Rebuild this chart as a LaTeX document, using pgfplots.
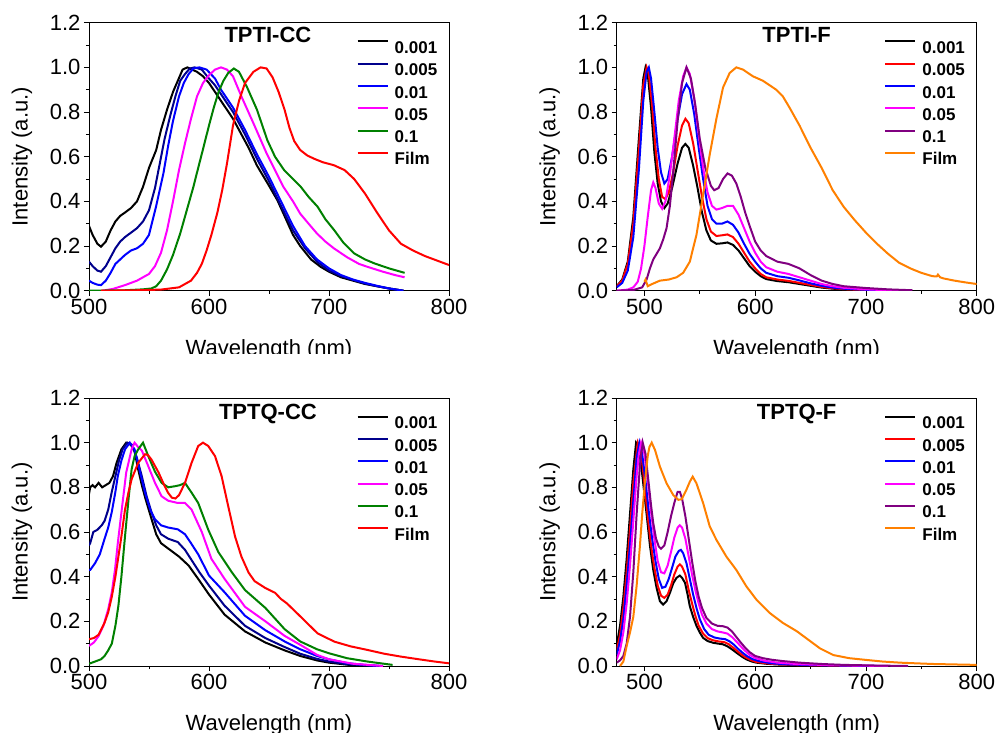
\documentclass[border=0pt]{standalone}
\usepackage{pgfplots}
\pgfplotsset{compat=1.18}
\usepackage{fontspec}
\setmainfont{Liberation Sans}
\definecolor{cnavy}{RGB}{0,0,140}
\definecolor{cblue}{RGB}{0,0,255}
\definecolor{cmag}{RGB}{255,0,255}
\definecolor{cgreen}{RGB}{0,128,0}
\definecolor{cred}{RGB}{255,0,0}
\definecolor{cpurple}{RGB}{128,0,128}
\definecolor{corange}{RGB}{255,128,0}
\pgfplotsset{
 panel/.style={
  scale only axis, width=360pt, height=268pt,
  ymin=0, ymax=1.2, xmax=800,
  ytick={0,0.2,0.4,0.6,0.8,1.0,1.2}, minor y tick num=1,
  xtick={500,600,700,800}, minor x tick num=1,
  tick align=outside, xtick pos=left, ytick pos=left,
  major tick length=5pt, minor tick length=3pt,
  yticklabel style={/pgf/number format/.cd, fixed, fixed zerofill, precision=1},
  /pgf/number format/assume math mode=true,
  ticklabel style={font=\fontsize{22}{26}\selectfont},
  label style={font=\fontsize{22}{26}\selectfont},
  xlabel={Wavelength (nm)}, ylabel={Intensity (a.u.)},
  xlabel style={at={(axis description cs:0.5,-0.24)}, anchor=base},
  ylabel style={at={(axis description cs:-0.186,0.5)}, anchor=center},
  axis line style={line width=0.8pt},
  every tick/.style={black, line width=0.8pt},
  legend style={draw=none, fill=none, font=\fontsize{17}{20}\selectfont\bfseries,
    anchor=north west, at={(rel axis cs:0.743,0.935)}, inner sep=0pt, row sep=9.2pt,
    nodes={inner sep=0pt, text height=12.2pt, text depth=0pt},
    /tikz/every odd column/.append style={column sep=6pt}},
  legend cell align=left,
  legend image code/.code={\draw[#1] (0pt,6pt) -- (30pt,6pt);},
  every axis plot/.append style={line width=2pt},
 }
}
\begin{document}
\begin{tikzpicture}
% ---------------- top row ----------------
\begin{scope}
\clip (0pt,378pt) rectangle (996pt,760pt);
\begin{axis}[panel, at={(89pt,441.3pt)}, anchor=south west, xmin=500]
\addplot[black] coordinates {(500,0.29)(503,0.25)(507,0.21)(510,0.197)(514,0.22)(518,0.27)(522,0.31)(526,0.335)(530,0.35)(535,0.37)(540,0.40)(545,0.465)(550,0.55)(556,0.63)(560,0.72)(565,0.81)(570,0.89)(574,0.94)(578,0.99)(582,1.0)(586,0.99)(590,0.98)(595,0.96)(600,0.93)(605,0.89)(610,0.85)(615,0.81)(620,0.77)(626,0.71)(633,0.64)(640,0.56)(650,0.47)(657,0.405)(665,0.31)(670,0.25)(676,0.2)(685,0.14)(693,0.107)(700,0.085)(710,0.06)(720,0.045)(730,0.03)(740,0.02)(750,0.01)(762,0.0)};
\addplot[cnavy] coordinates {(500,0.13)(503,0.11)(507,0.09)(510,0.085)(514,0.11)(518,0.15)(522,0.19)(526,0.22)(530,0.24)(535,0.26)(540,0.28)(545,0.31)(550,0.36)(555,0.46)(559,0.57)(563,0.68)(568,0.79)(572,0.87)(576,0.94)(580,0.97)(584,0.995)(588,1.0)(594,0.99)(600,0.95)(605,0.92)(610,0.88)(615,0.84)(620,0.80)(630,0.70)(640,0.59)(650,0.49)(660,0.38)(670,0.27)(680,0.19)(690,0.13)(700,0.09)(710,0.065)(720,0.048)(730,0.032)(740,0.02)(750,0.01)(762,0.0)};
\addplot[cblue] coordinates {(500,0.045)(503,0.035)(507,0.027)(510,0.025)(514,0.045)(518,0.08)(522,0.12)(526,0.14)(530,0.16)(535,0.18)(540,0.19)(545,0.21)(550,0.25)(556,0.38)(562,0.525)(566,0.65)(570,0.76)(575,0.87)(579,0.93)(583,0.97)(587,0.995)(592,1.0)(598,0.99)(605,0.95)(610,0.9)(620,0.82)(630,0.72)(640,0.61)(650,0.51)(660,0.4)(670,0.29)(680,0.2)(690,0.14)(700,0.1)(710,0.07)(720,0.05)(730,0.035)(740,0.022)(750,0.01)(762,0.0)};
\addplot[cmag] coordinates {(511,0.0)(520,0.008)(530,0.025)(540,0.045)(550,0.075)(555,0.11)(560,0.17)(565,0.27)(570,0.40)(575,0.54)(580,0.66)(585,0.77)(590,0.87)(595,0.93)(600,0.965)(605,0.99)(610,1.0)(615,0.99)(620,0.96)(627,0.87)(637,0.75)(648,0.615)(655,0.54)(662,0.465)(670,0.4)(676,0.345)(683,0.3)(690,0.256)(697,0.22)(704,0.19)(715,0.15)(725,0.12)(732,0.107)(745,0.085)(755,0.07)(763,0.06)};
\addplot[cgreen] coordinates {(500,0.0)(530,0.002)(545,0.006)(552,0.01)(556,0.02)(560,0.045)(565,0.095)(570,0.16)(576,0.256)(582,0.37)(587,0.465)(591,0.55)(595.5,0.644)(600,0.74)(604,0.82)(608,0.89)(612,0.94)(616,0.975)(620.7,0.995)(625,0.98)(631.8,0.91)(640,0.81)(648.6,0.674)(655,0.6)(662.6,0.54)(670,0.5)(676.5,0.465)(683,0.42)(690.5,0.376)(697,0.32)(704.5,0.27)(712,0.215)(721,0.167)(730,0.14)(738,0.122)(750,0.1)(763,0.08)};
\addplot[cred] coordinates {(510,0.0)(540,0.002)(560,0.005)(575,0.015)(585,0.045)(590,0.08)(594,0.12)(598,0.18)(602,0.25)(607,0.35)(611,0.45)(615,0.57)(620,0.74)(625,0.85)(630,0.93)(637,0.98)(643,1.0)(648,0.995)(653,0.955)(658,0.89)(663,0.81)(667,0.73)(671,0.67)(676,0.63)(682,0.605)(688,0.59)(695,0.575)(704,0.562)(713,0.54)(721,0.5)(730,0.435)(740,0.35)(750,0.27)(760,0.21)(770,0.18)(780,0.155)(790,0.135)(800,0.115)};
\legend{0.001,0.005,0.01,0.05,0.1,Film}
\node[font=\fontsize{22}{26}\selectfont\bfseries, anchor=base] at (rel axis cs:0.497,0.925) {TPTI-CC};
\end{axis}
\begin{axis}[panel, at={(616.7pt,441.3pt)}, anchor=south west, xmin=475]
\addplot[black] coordinates {(475,0.02)(480,0.05)(485,0.13)(490,0.33)(495,0.68)(499,0.95)(501,1.0)(503,0.97)(506,0.82)(509,0.62)(512,0.48)(515,0.40)(518,0.37)(521,0.39)(525,0.46)(530,0.57)(534,0.64)(537,0.657)(540,0.64)(544,0.56)(548,0.46)(552,0.35)(556,0.27)(560,0.225)(565,0.21)(570,0.212)(575,0.216)(580,0.205)(585,0.18)(590,0.145)(595,0.11)(600,0.085)(605,0.065)(610,0.052)(620,0.043)(630,0.038)(640,0.03)(650,0.022)(660,0.014)(670,0.009)(680,0.006)(700,0.003)(720,0.001)(740,0.0)};
\addplot[cred] coordinates {(475,0.02)(480,0.045)(485,0.12)(490,0.3)(495,0.63)(499,0.92)(502,1.0)(504,0.97)(507,0.83)(510,0.64)(513,0.5)(516,0.42)(519,0.41)(522,0.44)(526,0.53)(530,0.65)(534,0.74)(537,0.77)(540,0.75)(544,0.66)(548,0.54)(552,0.42)(556,0.32)(560,0.265)(565,0.245)(570,0.248)(575,0.252)(580,0.24)(585,0.21)(590,0.17)(595,0.13)(600,0.1)(605,0.075)(610,0.06)(620,0.05)(630,0.044)(640,0.035)(650,0.026)(660,0.017)(670,0.011)(680,0.007)(700,0.003)(720,0.001)(740,0.0)};
\addplot[cblue] coordinates {(475,0.015)(480,0.035)(485,0.09)(490,0.24)(495,0.54)(499,0.85)(502,0.98)(504,1.0)(506,0.95)(509,0.8)(512,0.64)(515,0.53)(518,0.48)(521,0.5)(525,0.6)(530,0.77)(534,0.88)(538,0.925)(541,0.9)(545,0.79)(549,0.64)(553,0.5)(557,0.38)(561,0.32)(565,0.3)(570,0.3)(575,0.31)(580,0.295)(585,0.26)(590,0.21)(595,0.165)(600,0.13)(605,0.1)(610,0.08)(620,0.065)(630,0.058)(640,0.046)(650,0.033)(660,0.022)(670,0.014)(680,0.009)(700,0.004)(720,0.002)(740,0.0)};
\addplot[cmag] coordinates {(475,0.0)(485,0.005)(490,0.015)(494,0.04)(497,0.1)(500,0.2)(503,0.33)(506,0.45)(508,0.485)(510,0.46)(513,0.39)(516,0.367)(519,0.4)(523,0.52)(527,0.68)(531,0.85)(535,0.96)(538,1.0)(541,0.97)(545,0.86)(549,0.7)(553,0.55)(557,0.44)(561,0.38)(565,0.363)(570,0.37)(575,0.38)(580,0.38)(585,0.34)(590,0.28)(595,0.22)(600,0.17)(605,0.13)(610,0.105)(620,0.085)(630,0.075)(640,0.06)(650,0.045)(660,0.03)(670,0.02)(680,0.013)(700,0.006)(720,0.002)(740,0.0)};
\addplot[cpurple] coordinates {(475,0.0)(490,0.003)(498,0.015)(502,0.05)(505,0.1)(508,0.14)(511,0.165)(514,0.19)(517,0.23)(520,0.28)(523,0.38)(526,0.53)(530,0.76)(534,0.93)(538,1.0)(542,0.95)(546,0.83)(550,0.68)(555,0.55)(560,0.47)(563,0.45)(567,0.46)(571,0.5)(575,0.525)(579,0.515)(583,0.48)(587,0.42)(591,0.35)(595,0.29)(600,0.22)(605,0.18)(610,0.155)(620,0.13)(630,0.12)(640,0.1)(650,0.07)(660,0.045)(670,0.03)(680,0.02)(700,0.012)(720,0.006)(742,0.002)};
\addplot[corange] coordinates {(500,0.04)(501,0.05)(503,0.02)(507,0.03)(514,0.045)(522,0.05)(529,0.06)(535,0.08)(541,0.13)(547,0.25)(553,0.43)(559,0.61)(565,0.77)(571,0.91)(577,0.975)(583,1.0)(589,0.99)(598,0.96)(607,0.94)(619,0.90)(625,0.87)(631,0.82)(640,0.74)(650,0.64)(660,0.55)(670,0.45)(680,0.375)(690,0.315)(700,0.26)(710,0.21)(720,0.165)(730,0.125)(740,0.1)(750,0.08)(760,0.065)(764,0.064)(765,0.072)(767,0.06)(770,0.055)(780,0.045)(790,0.037)(800,0.03)};
\legend{0.001,0.005,0.01,0.05,0.1,Film}
\node[font=\fontsize{22}{26}\selectfont\bfseries, anchor=base] at (rel axis cs:0.5,0.925) {TPTI-F};
\end{axis}
\end{scope}
% ---------------- bottom row ----------------
\begin{axis}[panel, at={(89pt,66pt)}, anchor=south west, xmin=500]
\addplot[black] coordinates {(500,0.77)(501,0.8)(503,0.81)(505,0.8)(508,0.82)(511,0.8)(514,0.81)(517,0.82)(520,0.85)(523,0.91)(527,0.97)(531,1.0)(535,0.99)(538,0.96)(541,0.88)(544,0.81)(547,0.75)(552,0.66)(556,0.59)(560,0.55)(565,0.53)(570,0.51)(575,0.49)(579,0.47)(583,0.45)(591,0.39)(600,0.32)(613,0.23)(630,0.155)(647,0.105)(663,0.07)(676,0.045)(690,0.025)(700,0.015)(720,0.003)(730,0.0)};
\addplot[cnavy] coordinates {(500,0.54)(501,0.55)(503.6,0.6)(507,0.61)(510.6,0.63)(513,0.65)(516,0.70)(519,0.78)(522,0.85)(525,0.92)(528,0.97)(532,1.0)(536,0.99)(540,0.93)(544,0.85)(548,0.76)(552,0.69)(556,0.63)(560,0.59)(566,0.57)(574,0.555)(580,0.52)(586,0.47)(592,0.42)(600,0.36)(613,0.27)(630,0.18)(647,0.125)(663,0.085)(676,0.055)(690,0.032)(700,0.02)(715,0.008)(730,0.003)(740,0.0)};
\addplot[cblue] coordinates {(500,0.43)(501,0.43)(505,0.46)(509,0.5)(513,0.57)(516,0.62)(519,0.69)(522,0.78)(524,0.85)(527,0.92)(530,0.97)(534,1.0)(538,0.97)(542,0.88)(546.7,0.776)(551,0.7)(555,0.657)(560,0.63)(566,0.62)(574,0.612)(580,0.59)(585,0.55)(591,0.5)(600,0.405)(613,0.33)(630,0.225)(647,0.16)(663,0.11)(676,0.075)(690,0.045)(700,0.03)(715,0.013)(730,0.005)(745,0.0)};
\addplot[cmag] coordinates {(500,0.09)(504,0.105)(508,0.134)(512,0.18)(516,0.254)(519,0.33)(521.7,0.433)(524,0.55)(527,0.687)(531,0.866)(535.5,0.97)(538,1.0)(541,0.98)(544,0.965)(549,0.9)(555,0.82)(560.5,0.76)(566,0.74)(574,0.73)(580,0.73)(585.5,0.70)(594,0.6)(602,0.48)(613,0.39)(630,0.265)(647,0.2)(663,0.135)(676,0.095)(690,0.05)(700,0.03)(720,0.01)(745,0.0)};
\addplot[cgreen] coordinates {(500,0.01)(505,0.02)(510,0.03)(513,0.045)(516,0.07)(519,0.10)(522,0.18)(524.5,0.27)(527,0.4)(530,0.58)(533,0.75)(535.5,0.88)(538,0.94)(541,0.97)(545,1.0)(549.4,0.94)(555,0.87)(560.5,0.82)(566,0.80)(571.7,0.805)(576,0.81)(580,0.82)(585.5,0.776)(591,0.73)(599.4,0.61)(607.8,0.51)(619,0.42)(630,0.34)(647,0.26)(663,0.165)(676,0.11)(690,0.075)(700,0.057)(715,0.035)(732,0.02)(753,0.005)};
\addplot[cred] coordinates {(500,0.12)(504,0.125)(508,0.14)(513,0.194)(516,0.24)(519,0.31)(522,0.4)(524.5,0.49)(527,0.58)(530,0.70)(533,0.78)(535.5,0.836)(541,0.91)(546.7,0.948)(549,0.945)(552,0.925)(558,0.866)(563,0.806)(566,0.775)(569,0.754)(572,0.75)(575,0.765)(580,0.82)(585.5,0.91)(591,0.985)(595,1.0)(599.4,0.985)(605,0.94)(610.5,0.85)(616,0.716)(621.7,0.58)(627,0.49)(633,0.418)(638,0.38)(646.7,0.35)(655,0.328)(660,0.3)(665,0.28)(676.5,0.22)(690.5,0.146)(704.5,0.109)(718,0.088)(732,0.072)(746,0.055)(760,0.042)(775,0.03)(788,0.02)(800,0.012)};
\legend{0.001,0.005,0.01,0.05,0.1,Film}
\node[font=\fontsize{22}{26}\selectfont\bfseries, anchor=base] at (rel axis cs:0.497,0.921) {TPTQ-CC};
\end{axis}
\begin{axis}[panel, at={(616.7pt,66pt)}, anchor=south west, xmin=475]
\addplot[black] coordinates {(475,0.09)(478,0.18)(481,0.31)(484,0.48)(487,0.68)(490,0.88)(492.5,1.0)(495,0.98)(498,0.86)(502,0.68)(505,0.54)(508,0.43)(511,0.35)(514,0.29)(517,0.275)(520,0.29)(523,0.327)(526,0.37)(529,0.395)(532,0.405)(534,0.395)(536.7,0.372)(539,0.32)(541,0.268)(544,0.22)(547,0.18)(550,0.15)(553,0.126)(557,0.112)(562,0.104)(567,0.1)(571,0.097)(575,0.088)(579,0.075)(583,0.06)(588,0.042)(592,0.03)(597,0.02)(601,0.015)(610,0.01)(619,0.007)(640,0.004)(670,0.002)(700,0.0)};
\addplot[cred] coordinates {(475,0.07)(478,0.14)(481,0.26)(484,0.42)(487,0.61)(490,0.82)(494,1.0)(497,0.96)(500,0.82)(503,0.67)(506,0.54)(509,0.44)(512,0.36)(515,0.315)(518,0.305)(521,0.32)(524,0.36)(527,0.41)(530,0.445)(532,0.455)(534,0.445)(537,0.41)(540,0.34)(543,0.28)(546,0.225)(549,0.18)(553,0.145)(557,0.125)(562,0.115)(567,0.11)(572,0.107)(576,0.098)(580,0.083)(584,0.066)(588,0.05)(592,0.037)(597,0.025)(601,0.018)(610,0.012)(620,0.008)(640,0.004)(670,0.002)(700,0.0)};
\addplot[cblue] coordinates {(475,0.05)(478,0.11)(481,0.21)(484,0.36)(487,0.54)(490,0.74)(493,0.93)(495.5,1.0)(498,0.95)(501,0.83)(504,0.69)(507,0.57)(510,0.47)(513,0.39)(516,0.35)(519,0.355)(522,0.39)(525,0.44)(528,0.49)(531,0.515)(533,0.52)(535,0.505)(538,0.46)(541,0.39)(544,0.32)(547,0.26)(550,0.21)(554,0.165)(558,0.14)(563,0.128)(568,0.123)(573,0.12)(577,0.11)(581,0.095)(585,0.075)(589,0.058)(593,0.043)(598,0.03)(605,0.02)(615,0.012)(630,0.007)(650,0.004)(680,0.002)(710,0.0)};
\addplot[cmag] coordinates {(475,0.03)(478,0.07)(481,0.15)(484,0.28)(487,0.45)(490,0.65)(493,0.85)(495,0.95)(497,1.0)(500,0.95)(503,0.83)(506,0.69)(509,0.57)(512,0.47)(515,0.42)(518,0.415)(521,0.45)(524,0.51)(527,0.575)(530,0.62)(532,0.63)(534,0.62)(537,0.57)(540,0.49)(543,0.41)(546,0.34)(549,0.28)(552,0.23)(556,0.19)(561,0.165)(566,0.155)(571,0.15)(575,0.145)(579,0.13)(583,0.11)(587,0.088)(591,0.068)(595,0.05)(600,0.036)(608,0.024)(620,0.015)(640,0.008)(660,0.005)(690,0.002)(720,0.0)};
\addplot[cpurple] coordinates {(475,0.015)(478,0.025)(481,0.045)(484,0.1)(487,0.22)(490,0.42)(493,0.68)(496,0.9)(498.5,1.0)(501,0.95)(503.6,0.83)(506,0.72)(508,0.64)(510.5,0.57)(513,0.535)(515,0.525)(518,0.54)(521,0.6)(524,0.67)(527,0.73)(530,0.78)(532,0.78)(534,0.75)(537,0.67)(540,0.57)(543,0.47)(546,0.38)(549,0.31)(552,0.26)(556,0.215)(561,0.19)(566,0.18)(571,0.178)(575,0.172)(579,0.155)(583,0.13)(587,0.105)(591,0.082)(595,0.062)(600,0.045)(607,0.035)(615,0.028)(625,0.022)(640,0.015)(660,0.009)(680,0.005)(710,0.002)(738,0.0)};
\addplot[corange] coordinates {(478,0.0)(481,0.02)(484,0.09)(487,0.15)(490,0.22)(493,0.36)(496,0.54)(498,0.68)(500.6,0.83)(503,0.94)(504.5,0.98)(506.6,1.0)(509.6,0.967)(514,0.893)(520,0.818)(526,0.766)(530.7,0.744)(533.7,0.747)(538,0.79)(541,0.825)(543.6,0.848)(547,0.818)(553,0.73)(559,0.625)(565,0.565)(574,0.49)(583,0.43)(592,0.357)(601,0.298)(613,0.238)(625,0.193)(637.5,0.156)(649.5,0.112)(658.5,0.079)(670.6,0.049)(685,0.035)(700.7,0.027)(715,0.02)(730.7,0.015)(745,0.012)(760.8,0.009)(780,0.007)(800,0.005)};
\legend{0.001,0.005,0.01,0.05,0.1,Film}
\node[font=\fontsize{22}{26}\selectfont\bfseries, anchor=base] at (rel axis cs:0.5,0.921) {TPTQ-F};
\end{axis}
\pgfresetboundingbox
\useasboundingbox (0pt,0pt) rectangle (996pt,732pt);
\end{tikzpicture}
\end{document}
